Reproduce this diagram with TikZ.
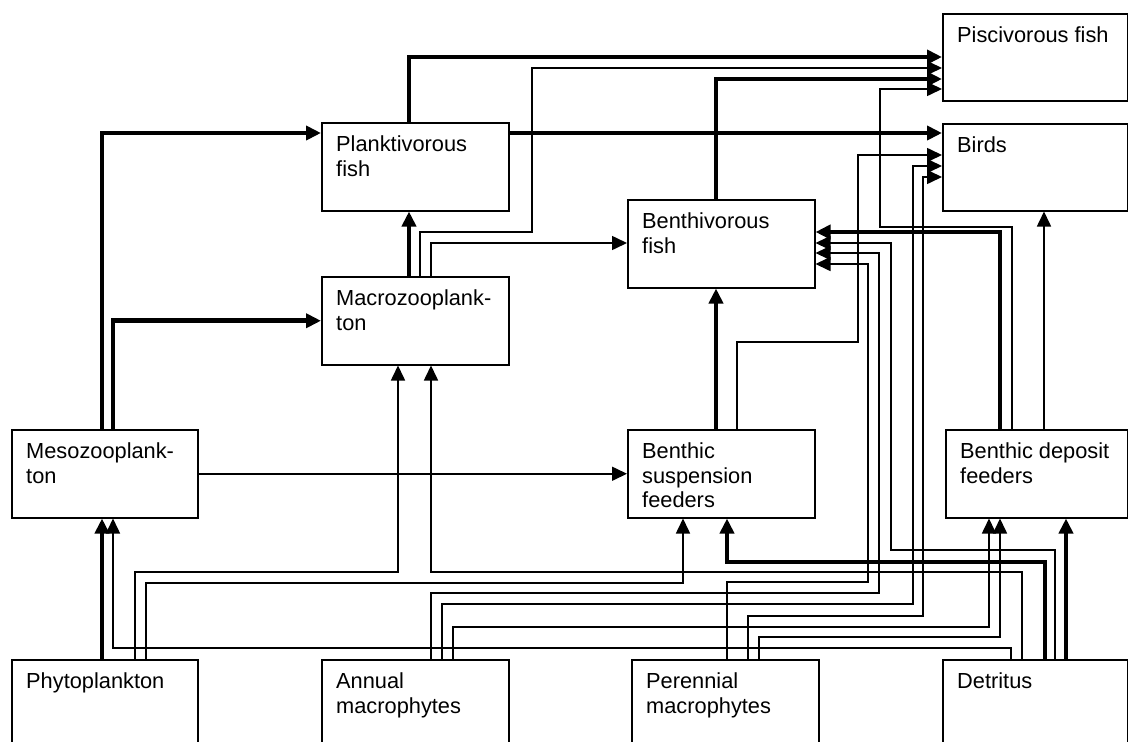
\documentclass[tikz,border=0pt]{standalone}
\usepackage{fontspec}
\setmainfont{Liberation Sans}
\usetikzlibrary{arrows.meta}
\begin{document}
\begin{tikzpicture}[x=1pt,y=-1pt,
  box/.style={draw, line width=1.5pt, fill=white, rectangle, anchor=north west, inner sep=0pt, minimum width=187pt, minimum height=88pt},
  lbl/.style={anchor=north west, inner sep=0pt, align=left, font=\fontsize{21.8}{24.6}\selectfont},
  thn/.style={line width=1.6pt, -{Triangle[length=15pt,width=14pt]}},
  thk/.style={line width=4.6pt, -{Triangle[length=15pt,width=14pt]}}
]
\useasboundingbox (0,0) rectangle (1128,742);
\clip (0,0) rectangle (1128,742);
% boxes
\node[box, minimum width=185pt, minimum height=87pt] (pisc) at (942,13) {};
\node[box, minimum width=185pt, minimum height=87pt] (birds) at (942,123) {};
\node[box] (plank) at (321,122) {};
\node[box] (benthiv) at (627,199) {};
\node[box] (macro) at (321,276) {};
\node[box, minimum width=186pt] (meso) at (11,429) {};
\node[box] (bsf) at (627,429) {};
\node[box, minimum width=182pt] (bdf) at (945,429) {};
\node[box, minimum width=186pt, minimum height=95pt] (phyto) at (11,659) {};
\node[box, minimum height=95pt] (annual) at (321,659) {};
\node[box, minimum height=95pt] (peren) at (631,659) {};
\node[box, minimum width=185pt, minimum height=95pt] (detr) at (942,659) {};
% labels
\node[lbl] (piscT) at ([xshift=15pt,yshift=-13.5pt]pisc.north west) {Piscivorous fish};
\node[lbl] (birdsT) at ([xshift=15pt,yshift=-13.5pt]birds.north west) {Birds};
\node[lbl] (plankT) at ([xshift=15pt,yshift=-13.5pt]plank.north west) {Planktivorous\\fish};
\node[lbl] (benthivT) at ([xshift=15pt,yshift=-13.5pt]benthiv.north west) {Benthivorous\\fish};
\node[lbl] (macroT) at ([xshift=15pt,yshift=-13.5pt]macro.north west) {Macrozooplank-\\ton};
\node[lbl] (mesoT) at ([xshift=15pt,yshift=-13.5pt]meso.north west) {Mesozooplank-\\ton};
\node[lbl] (bsfT) at ([xshift=15pt,yshift=-13.5pt]bsf.north west) {Benthic\\suspension\\feeders};
\node[lbl] (bdfT) at ([xshift=15pt,yshift=-13.5pt]bdf.north west) {Benthic deposit\\feeders};
\node[lbl] (phytoT) at ([xshift=15pt,yshift=-13.5pt]phyto.north west) {Phytoplankton};
\node[lbl] (annualT) at ([xshift=15pt,yshift=-13.5pt]annual.north west) {Annual\\macrophytes};
\node[lbl] (perenT) at ([xshift=15pt,yshift=-13.5pt]peren.north west) {Perennial\\macrophytes};
\node[lbl] (detrT) at ([xshift=15pt,yshift=-13.5pt]detr.north west) {Detritus};
% connectors to piscivorous fish
\draw[thk] ([xshift=88pt]plank.north west) |- ([yshift=-44pt]pisc.north west);
\draw[thn] ([xshift=99pt]macro.north west) |- (532,232) |- ([yshift=-55pt]pisc.north west);
\draw[thk] ([xshift=89pt]benthiv.north west) |- ([yshift=-66pt]pisc.north west);
\draw[thn] ([xshift=67pt]bdf.north west) |- (880,227) |- ([yshift=-76pt]pisc.north west);
% connectors to birds
\draw[thk] ([yshift=-11pt]plank.north east) -- ([yshift=-10pt]birds.north west);
\draw[thn] ([xshift=110pt]bsf.north west) |- (858,342) |- ([yshift=-32pt]birds.north west);
\draw[thn] ([xshift=121pt]annual.north west) |- (913,604) |- ([yshift=-43pt]birds.north west);
\draw[thn] ([xshift=117pt]peren.north west) |- (923,616) |- ([yshift=-54pt]birds.north west);
\draw[thn] ([xshift=99pt]bdf.north west) -- ([xshift=102pt]birds.south west);
% planktivorous / macrozooplankton
\draw[thk] ([xshift=88pt]macro.north west) -- ([xshift=88pt]plank.south west);
\draw[thn] ([xshift=110pt]macro.north west) |- ([yshift=-44pt]benthiv.north west);
\draw[thk] ([xshift=91pt]meso.north west) |- ([yshift=-11pt]plank.north west);
\draw[thk] ([xshift=102pt]meso.north west) |- (macro.west);
\draw[thn] (meso.east) -- (bsf.west);
% benthivorous fish
\draw[thk] ([xshift=89pt]bsf.north west) -- ([xshift=89pt]benthiv.south west);
\draw[thk] ([xshift=55pt]bdf.north west) |- ([yshift=-33pt]benthiv.north east);
\draw[thn] ([xshift=113pt]detr.north west) |- (891,550) |- ([yshift=-44pt]benthiv.north east);
\draw[thn] ([xshift=110pt]annual.north west) |- (879,593) |- ([yshift=-54pt]benthiv.north east);
\draw[thn] ([xshift=96pt]peren.north west) |- (868,582) |- ([yshift=-65pt]benthiv.north east);
% bottom row sources
\draw[thk] ([xshift=91pt]phyto.north west) -- ([xshift=91pt]meso.south west);
\draw[thn] ([xshift=69pt]detr.north west) |- (113,648) -- ([xshift=102pt]meso.south west);
\draw[thn] ([xshift=124pt]phyto.north west) |- (398,572) -- ([xshift=77pt]macro.south west);
\draw[thn] ([xshift=80pt]detr.north west) |- (431,572) -- ([xshift=110pt]macro.south west);
\draw[thn] ([xshift=135pt]phyto.north west) |- (683,583) -- ([xshift=56pt]bsf.south west);
\draw[thk] ([xshift=103pt]detr.north west) |- (727,562) -- ([xshift=100pt]bsf.south west);
\draw[thn] ([xshift=132pt]annual.north west) |- (989,627) -- ([xshift=44pt]bdf.south west);
\draw[thn] ([xshift=128pt]peren.north west) |- (1000,637) -- ([xshift=55pt]bdf.south west);
\draw[thk] ([xshift=124pt]detr.north west) -- ([xshift=121pt]bdf.south west);
\end{tikzpicture}
\end{document}
